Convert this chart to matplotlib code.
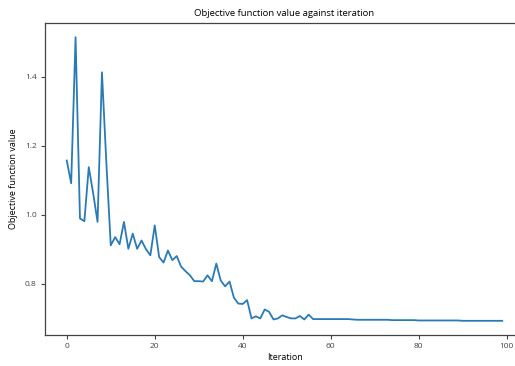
import matplotlib
matplotlib.use("Agg")
import matplotlib.pyplot as plt
import numpy as np

plt.rcParams['font.family'] = ['Open Sans', 'DejaVu Sans']

iterations = list(range(100))
objective = [
    1.157, 1.091, 1.515, 0.989, 0.981, 1.138, 1.062, 0.979, 1.413, 1.150,
    0.911, 0.935, 0.914, 0.979, 0.901, 0.945, 0.901, 0.925, 0.900, 0.882,
    0.969, 0.877, 0.861, 0.896, 0.868, 0.880, 0.849, 0.836, 0.824, 0.807,
    0.807, 0.806, 0.824, 0.807, 0.858, 0.809, 0.792, 0.806, 0.759, 0.742,
    0.741, 0.752, 0.699, 0.705, 0.699, 0.725, 0.718, 0.696, 0.699, 0.708,
    0.703, 0.699, 0.699, 0.706, 0.696, 0.710, 0.697, 0.697, 0.697, 0.697,
    0.697, 0.697, 0.697, 0.697, 0.697, 0.696, 0.695, 0.695, 0.695, 0.695,
    0.695, 0.695, 0.695, 0.695, 0.694, 0.694, 0.694, 0.694, 0.694, 0.694,
    0.693, 0.693, 0.693, 0.693, 0.693, 0.693, 0.693, 0.693, 0.693, 0.693,
    0.692, 0.692, 0.692, 0.692, 0.692, 0.692, 0.692, 0.692, 0.692, 0.692,
]
x_ticks = [0, 20, 40, 60, 80, 100]
y_ticks = [0.8, 1.0, 1.2, 1.4]

fig = plt.figure(figsize=(5.15, 3.66), dpi=100)
ax = fig.add_axes([45/515, 31/366, 479/515, 312/366])
ax.plot(iterations, objective, color='#2a7ab5', linewidth=1.3)
ax.set_xlim(-4.95, 103.95)
ax.set_xticks(x_ticks)
ax.set_yticks(y_ticks)
ax.set_yticklabels([f"{v:.1f}" for v in y_ticks])
ax.tick_params(labelsize=6, length=3, pad=3, colors='#444444')
ax.set_title("Objective function value against iteration", fontsize=6.8, pad=5)
ax.set_xlabel("Iteration", fontsize=6.5, labelpad=2)
ax.set_ylabel("Objective function value", fontsize=6.5, labelpad=5)
for s in ax.spines.values():
    s.set_color('#444444')
    s.set_linewidth(0.9)

fig.savefig("out.png", dpi=100)
